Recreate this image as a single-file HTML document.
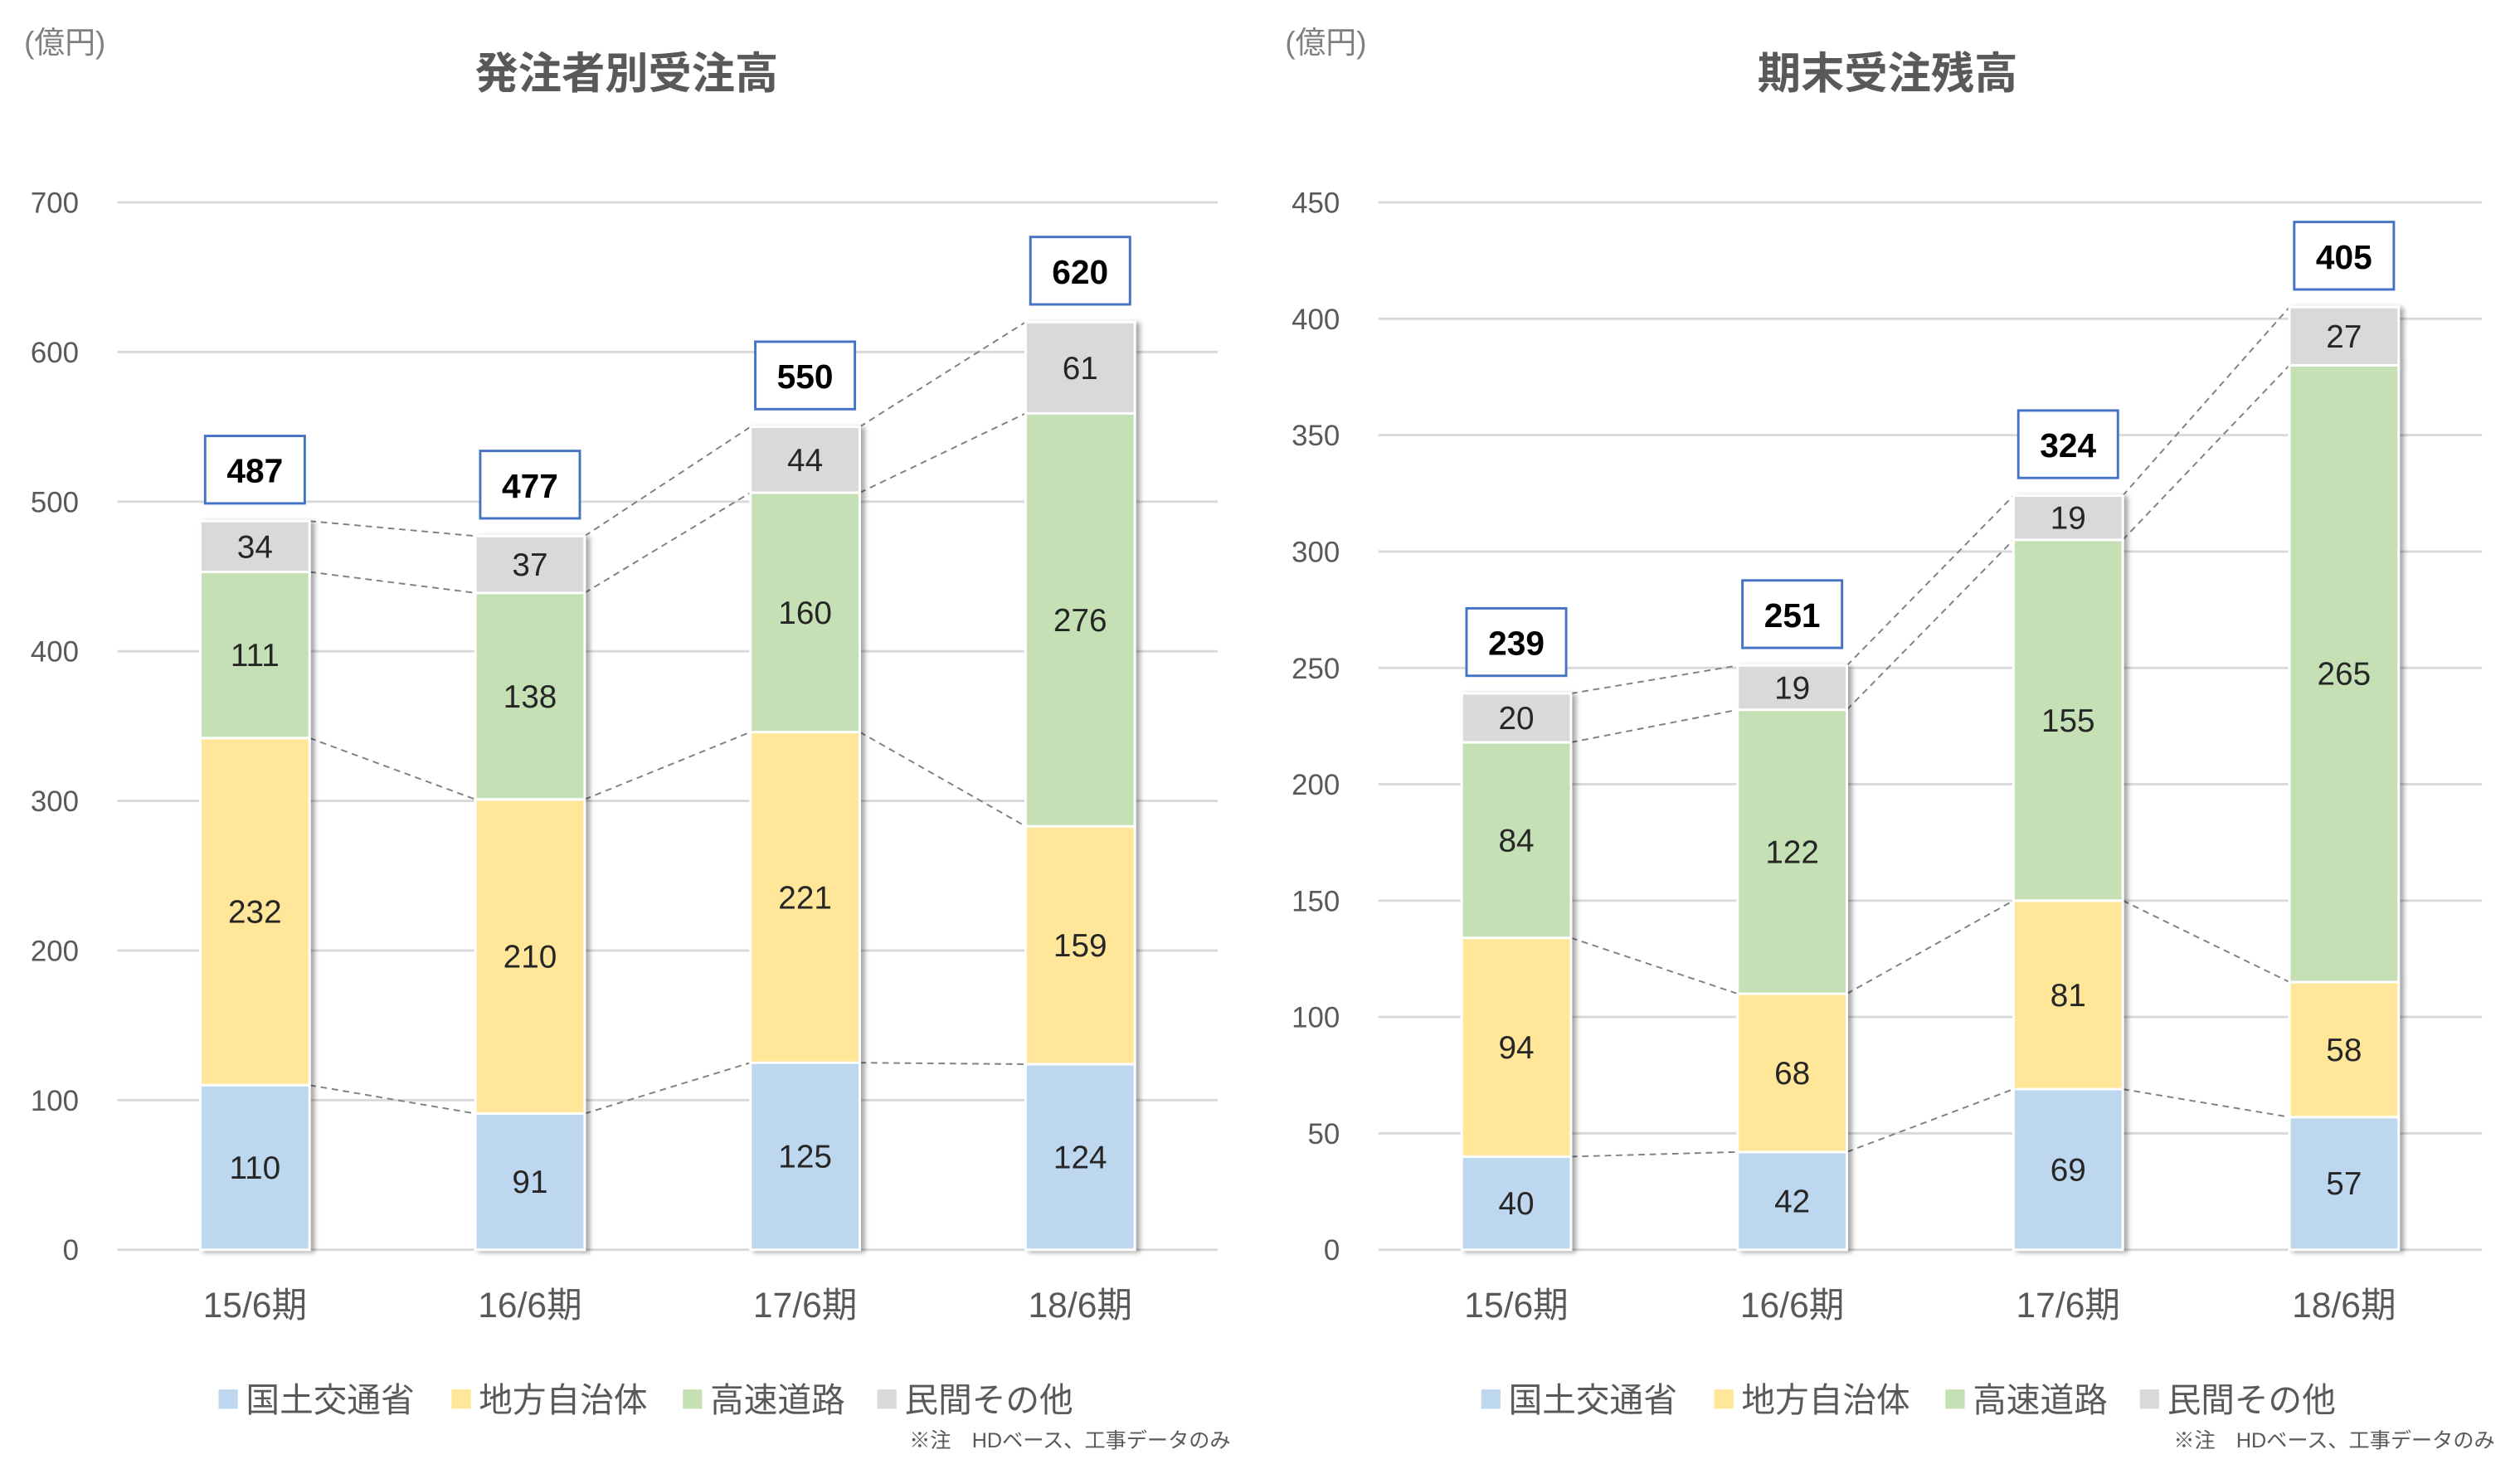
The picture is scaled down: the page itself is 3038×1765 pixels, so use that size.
<!DOCTYPE html>
<html><head><meta charset="utf-8">
<style>
html,body{margin:0;padding:0;background:#fff;}
svg{display:block;}
text{font-family:"Liberation Sans","Noto Sans CJK JP",sans-serif;}
</style></head>
<body>
<svg id="chart" width="3038" height="1765" viewBox="0 0 1568.6 911.4" xmlns="http://www.w3.org/2000/svg">
<defs>
<filter id="sh" x="-20%" y="-5%" width="150%" height="110%">
<feDropShadow dx="2.5" dy="1" stdDeviation="1.5" flood-color="#000" flood-opacity="0.35"/>
</filter>
</defs>
<g id="root"></g>
</svg>
<script>
const categories = ["15/6期","16/6期","17/6期","18/6期"];
const seriesNames = ["国土交通省","地方自治体","高速道路","民間その他"];
const leftBlue = [110,91,125,124];
const leftYellow = [232,210,221,159];
const leftGreen = [111,138,160,276];
const leftGray = [34,37,44,61];
const leftTotals = [487,477,550,620];
const leftTicks = [0,100,200,300,400,500,600,700];
const rightBlue = [40,42,69,57];
const rightYellow = [94,68,81,58];
const rightGreen = [84,122,155,265];
const rightGray = [20,19,19,27];
const rightTotals = [239,251,324,405];
const rightTicks = [0,50,100,150,200,250,300,350,400,450];

const NS = "http://www.w3.org/2000/svg";
const root = document.getElementById('root');
const colors = ["#BDD7EE","#FFE699","#C5E0B4","#D9D9D9"];
function mk(tag, attrs, parent, txt){
  const e = document.createElementNS(NS, tag);
  for (const k in attrs) e.setAttribute(k, attrs[k]);
  if (txt !== undefined) e.textContent = txt;
  (parent||root).appendChild(e);
  return e;
}

function drawChart(cfg){
  const g = mk('g', {});
  
  
  const x0 = cfg.x0, x1 = cfg.x1, yBase = 778, yTop = 126;
  const maxV = cfg.ticks[cfg.ticks.length-1];
  const y = v => yBase - v * (yBase - yTop) / maxV;
  const step = (x1 - x0) / categories.length;
  const cx = i => x0 + (i + 0.5) * step;
  const bw = 68;

  const u = mk('text', {x: cfg.x0 - 58, y: 33, 'font-size': 19, fill: '#7f7f7f'}, g, '(億円)');
  
  
  const t = mk('text', {x: cfg.titleX, y: 55, 'font-size': 27, 'font-weight': 'bold', fill: '#595959', 'text-anchor': 'middle'}, g, cfg.title);
  
  

  cfg.ticks.forEach(v => {
    const l = mk('line', {x1: x0, x2: x1, y1: y(v), y2: y(v), stroke: '#d9d9d9', 'stroke-width': 1.5}, g);
    
    
    const tl = mk('text', {x: x0 - 24, y: y(v) + 6.5, 'font-size': 18, fill: '#595959', 'text-anchor': 'end'}, g, String(v));
    
    
  });

  const series = cfg.series;
  const cum = categories.map((c, i) => {
    let s = 0; return series.map(arr => (s += arr[i]));
  });

  for (let i = 0; i < categories.length - 1; i++) {
    for (let k = 0; k < 4; k++) {
      const a = k === 3 ? cfg.totals[i] : cum[i][k];
      const b = k === 3 ? cfg.totals[i+1] : cum[i+1][k];
      const l = mk('line', {x1: cx(i) + bw/2, y1: y(a), x2: cx(i+1) - bw/2, y2: y(b), stroke: '#808080', 'stroke-width': 1, 'stroke-dasharray': '4,3'}, g);
      
      
    }
  }

  categories.forEach((c, i) => {
    const bg = mk('g', {filter: 'url(#sh)'}, g);
    
    
    let base = 0;
    series.forEach((arr, k) => {
      const v = arr[i];
      const top = k === 3 ? cfg.totals[i] : base + v;
      const r = mk('rect', {x: cx(i) - bw/2, y: y(top), width: bw, height: y(base) - y(top), fill: colors[k], stroke: '#fff', 'stroke-width': 1.5}, bg);
      
      
      base = top;
    });
    base = 0;
    series.forEach((arr, k) => {
      const v = arr[i];
      const top = k === 3 ? cfg.totals[i] : base + v;
      const lbl = mk('text', {x: cx(i), y: (y(base) + y(top)) / 2 + 7, 'font-size': 20, fill: '#262626', 'text-anchor': 'middle'}, g, String(v));
      
      
      base = top;
    });
    const by = y(cfg.totals[i]) - 11 - 42;
    const box = mk('rect', {x: cx(i) - 31, y: by, width: 62, height: 42, fill: '#fff', stroke: '#4472C4', 'stroke-width': 1.5}, g);
    
    
    const tt = mk('text', {x: cx(i), y: by + 29, 'font-size': 21, 'font-weight': 'bold', fill: '#000', 'text-anchor': 'middle'}, g, String(cfg.totals[i]));
    
    
    const cl = mk('text', {x: cx(i), y: 820, 'font-size': 22, fill: '#595959', 'text-anchor': 'middle'}, g, c);
    
    
  });

  const lx = [0, 145, 289, 410];
  seriesNames.forEach((n, k) => {
    const lg = mk('g', {}, g);
    
    
    mk('rect', {x: cfg.legendX + lx[k], y: 865, width: 12, height: 12, fill: colors[k]}, lg);
    mk('text', {x: cfg.legendX + lx[k] + 17, y: 879, 'font-size': 21, fill: '#595959'}, lg, n);
  });
  const note = mk('text', {x: x1 + 8, y: 901, 'font-size': 13, fill: '#595959', 'text-anchor': 'end'}, g, '※注　HDベース、工事データのみ');
  
  
}

drawChart({name: 'orders-by-client-chart', title: '発注者別受注高', titleX: 390, x0: 73, x1: 758,
  ticks: leftTicks, series: [leftBlue, leftYellow, leftGreen, leftGray], totals: leftTotals, legendX: 136});
drawChart({name: 'order-backlog-chart', title: '期末受注残高', titleX: 1175, x0: 858, x1: 1545,
  ticks: rightTicks, series: [rightBlue, rightYellow, rightGreen, rightGray], totals: rightTotals, legendX: 922});
</script>
</body></html>
